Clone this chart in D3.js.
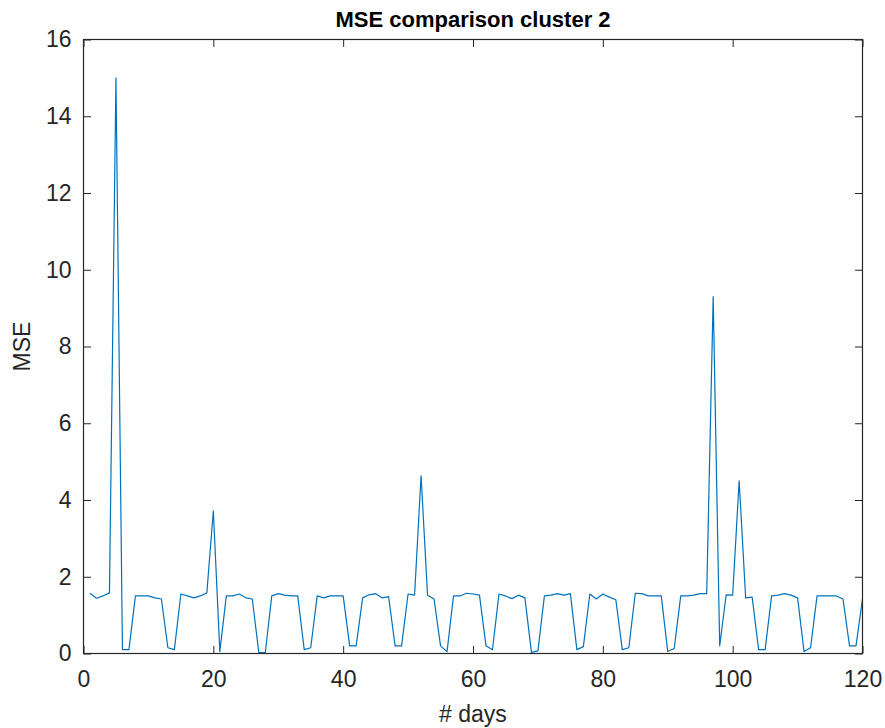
<!DOCTYPE html>
<html>
<head>
<meta charset="utf-8">
<script src="https://cdn.jsdelivr.net/npm/d3@7"></script>
<style>
  body { margin: 0; background: #fff; }
  svg { display: block; font-family: "Liberation Sans", Arial, sans-serif; }
</style>
</head>
<body>
<svg id="chart" width="885" height="728"></svg>
<script>
// MSE per day for cluster 2 (days 1..120)
const days = d3.range(1, 121);
const mse = [
  1.57, 1.44, 1.50, 1.58, 15.0, 0.10, 0.10, 1.50, 1.50, 1.50,
  1.45, 1.42, 0.15, 0.10, 1.55, 1.50, 1.45, 1.50, 1.58, 3.72,
  0.05, 1.50, 1.50, 1.55, 1.45, 1.42, 0.03, 0.02, 1.50, 1.56,
  1.52, 1.50, 1.50, 0.10, 0.15, 1.50, 1.45, 1.50, 1.50, 1.50,
  0.20, 0.20, 1.45, 1.53, 1.56, 1.45, 1.48, 0.20, 0.20, 1.55,
  1.52, 4.63, 1.52, 1.42, 0.20, 0.05, 1.50, 1.50, 1.57, 1.55,
  1.52, 0.20, 0.10, 1.55, 1.50, 1.43, 1.52, 1.45, 0.03, 0.07,
  1.50, 1.52, 1.56, 1.52, 1.56, 0.10, 0.18, 1.55, 1.42, 1.55,
  1.47, 1.40, 0.10, 0.15, 1.57, 1.56, 1.50, 1.50, 1.50, 0.05,
  0.13, 1.50, 1.50, 1.52, 1.56, 1.56, 9.30, 0.20, 1.53, 1.52,
  4.50, 1.45, 1.47, 0.10, 0.10, 1.50, 1.52, 1.56, 1.52, 1.45,
  0.05, 0.15, 1.50, 1.50, 1.50, 1.50, 1.42, 0.20, 0.20, 1.42
];
const xTicks = [0, 20, 40, 60, 80, 100, 120];
const yTicks = [0, 2, 4, 6, 8, 10, 12, 14, 16];

const svg = d3.select('#chart');
const padL = 83.5, padR = 862.5, padT = 39.5, padB = 653.5;

const x = d3.scaleLinear().domain([0, 120]).range([padL, padR]);
const y = d3.scaleLinear().domain([0, 16]).range([padB, padT]);

const axisColor = '#262626';
const tickLen = 7.5;
const fontSize = 23;

// inner ticks on all four sides (MATLAB box style)
const axB = d3.axisBottom(x).tickValues(xTicks).tickSizeInner(-tickLen).tickSizeOuter(0).tickPadding(17);
const axT = d3.axisTop(x).tickValues(xTicks).tickSizeInner(-tickLen).tickSizeOuter(0).tickFormat('');
const axL = d3.axisLeft(y).tickValues(yTicks).tickSizeInner(-tickLen).tickSizeOuter(0).tickPadding(12);
const axR = d3.axisRight(y).tickValues(yTicks).tickSizeInner(-tickLen).tickSizeOuter(0).tickFormat('');

function style(g) {
  g.select('.domain').remove();
  g.selectAll('line').attr('stroke', axisColor).attr('stroke-width', 1);
  g.selectAll('text').attr('fill', axisColor).attr('font-size', fontSize)
    .attr('font-family', '"Liberation Sans", Arial, sans-serif');
}

svg.append('g').attr('transform', `translate(0,${padB})`).call(axB).call(style);
svg.append('g').attr('transform', `translate(0,${padT})`).call(axT).call(style);
svg.append('g').attr('transform', `translate(${padL},0)`).call(axL).call(style);
svg.append('g').attr('transform', `translate(${padR},0)`).call(axR).call(style);

const line = d3.line().x((d, i) => x(days[i])).y(d => y(d));
svg.append('path')
  .datum(mse)
  .attr('fill', 'none')
  .attr('stroke', '#0072BD')
  .attr('stroke-width', 1.2)
  .attr('stroke-linejoin', 'round')
  .attr('d', line);

// plot box
svg.append('rect')
  .attr('x', padL).attr('y', padT)
  .attr('width', padR - padL).attr('height', padB - padT)
  .attr('fill', 'none').attr('stroke', axisColor).attr('stroke-width', 1.2);

svg.append('text')
  .attr('x', (padL + padR) / 2).attr('y', 27)
  .attr('text-anchor', 'middle')
  .attr('font-size', 22).attr('font-weight', 'bold')
  .attr('fill', '#000')
  .text('MSE comparison cluster 2');

svg.append('text')
  .attr('x', (padL + padR) / 2).attr('y', 722)
  .attr('text-anchor', 'middle')
  .attr('font-size', fontSize).attr('fill', axisColor)
  .text('# days');

svg.append('text')
  .attr('transform', `translate(30,${(padT + padB) / 2}) rotate(-90)`)
  .attr('text-anchor', 'middle')
  .attr('font-size', fontSize).attr('fill', axisColor)
  .text('MSE');
</script>
</body>
</html>
